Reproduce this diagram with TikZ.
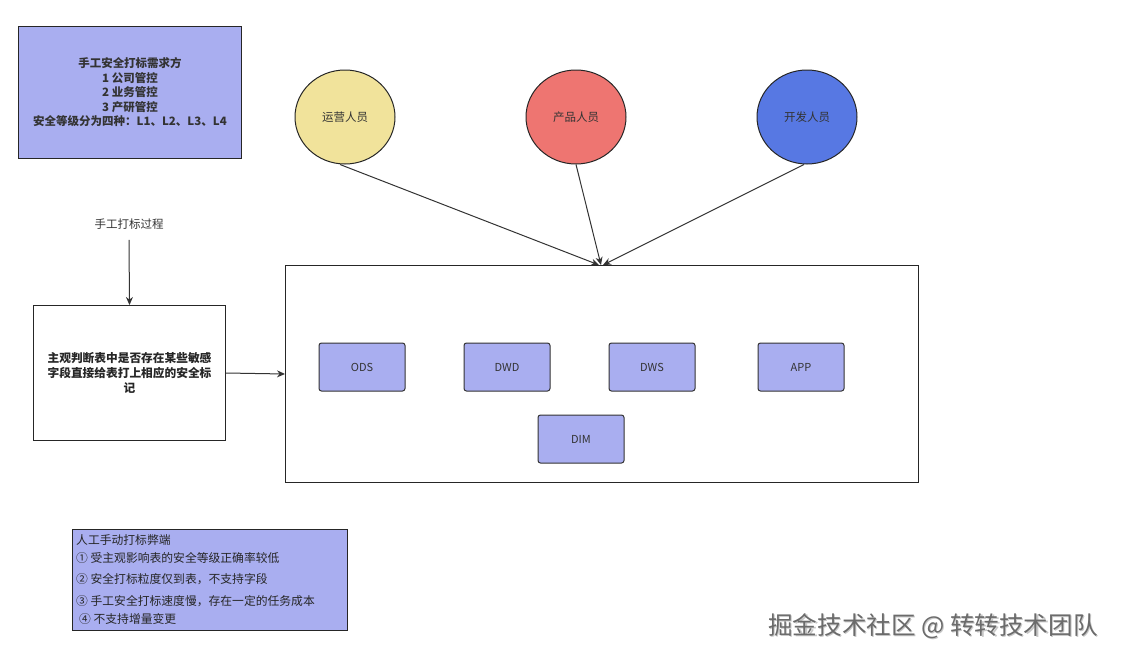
\documentclass[tikz,border=0pt]{standalone}
\usepackage{fontspec}
\setmainfont{Noto Sans CJK SC}
\usetikzlibrary{arrows.meta,shapes.geometric}
\definecolor{lav}{HTML}{A9AEF0}
\definecolor{yel}{HTML}{F1E39B}
\definecolor{redc}{HTML}{EE7571}
\definecolor{bluec}{HTML}{5778E3}
\definecolor{txt}{HTML}{333333}
\tikzset{
  box/.style={draw=black!85, line width=1pt, inner sep=0pt},
  layer/.style={draw=black!80, line width=1pt, fill=lav, rounded corners=2.5pt, minimum width=86pt, minimum height=48pt, font=\fontsize{11}{13}\selectfont, text=txt},
  person/.style={ellipse, draw=black!85, line width=1pt, minimum width=100pt, minimum height=94pt, font=\fontsize{11.5}{13}\selectfont, text=txt},
  arr/.style={-{Stealth[length=8pt,width=7pt]}, line width=1pt, draw=black!80},
}
\begin{document}
\begin{tikzpicture}[x=1pt,y=-1pt]
\useasboundingbox (0,0) rectangle (1122,659);
% top-left box
\node[box, fill=lav, minimum width=223pt, minimum height=132pt, anchor=north west, align=center, font=\bfseries\fontsize{11.5}{14.5}\selectfont, text=txt] (req) at (18,26)
  {手工安全打标需求方\\1 公司管控\\2 业务管控\\3 产研管控\\安全等级分为四种：L1、L2、L3、L4};
% persons
\node[person, fill=yel] (ops) at (345,117) {运营人员};
\node[person, fill=redc] (prod) at (576,117) {产品人员};
\node[person, fill=bluec] (dev) at (807,117) {开发人员};
% big container
\node[box, fill=white, minimum width=633pt, minimum height=217pt, anchor=north west] (dw) at (285,265) {};
\coordinate (dwin) at (601,265);
% layers
\node[layer] (ods) at (362,367) {ODS};
\node[layer] (dwd) at (507,367) {DWD};
\node[layer] (dws) at (652,367) {DWS};
\node[layer] (app) at (801,367) {APP};
\node[layer] (dim) at (581,439) {DIM};
% arrows from persons
\draw[arr] (ops.south) ++(-5,0) -- ([xshift=-2pt]dwin);
\draw[arr] (prod.south) -- (dwin);
\draw[arr] (dev.south) ++(-3,0) -- ([xshift=2pt]dwin);
% process
\node[font=\fontsize{11.5}{13}\selectfont, text=txt] (proc) at (129,224) {手工打标过程};
\node[box, fill=white, minimum width=192pt, minimum height=135pt, anchor=north west, align=center, font=\bfseries\fontsize{11.7}{15}\selectfont, text=black!85] (judge) at (33,305)
  {主观判断表中是否存在某些敏感\\字段直接给表打上相应的安全标\\记};
\draw[arr] (proc.south) ++(0,7) -- (judge.north);
\draw[arr] (judge.east) -- (dw.west);
% drawbacks box
\node[box, fill=lav, minimum width=275pt, minimum height=101pt, anchor=north west] (bad) at (72,529) {};
\begin{scope}[every node/.style={anchor=west, font=\fontsize{11.8}{13}\selectfont, text=black!85, inner sep=0pt}]
\node (b0) at (76,540) {人工手动打标弊端};
\node (b1) at (76,558) {① 受主观影响表的安全等级正确率较低};
\node (b2) at (76,579) {② 安全打标粒度仅到表，不支持字段};
\node (b3) at (76,601) {③ 手工安全打标速度慢，存在一定的任务成本};
\node (b4) at (79,619) {④ 不支持增量变更};
\end{scope}
% watermark
\node[anchor=west, font=\fontsize{24.6}{26}\selectfont, text=black!22, inner sep=0pt] (wm0) at (769.3,627.3) {掘金技术社区 @ 转转技术团队};
\node[anchor=west, font=\fontsize{24.6}{26}\selectfont, text=black!58, inner sep=0pt] (wm) at (768,626) {掘金技术社区 @ 转转技术团队};
\end{tikzpicture}
\end{document}
